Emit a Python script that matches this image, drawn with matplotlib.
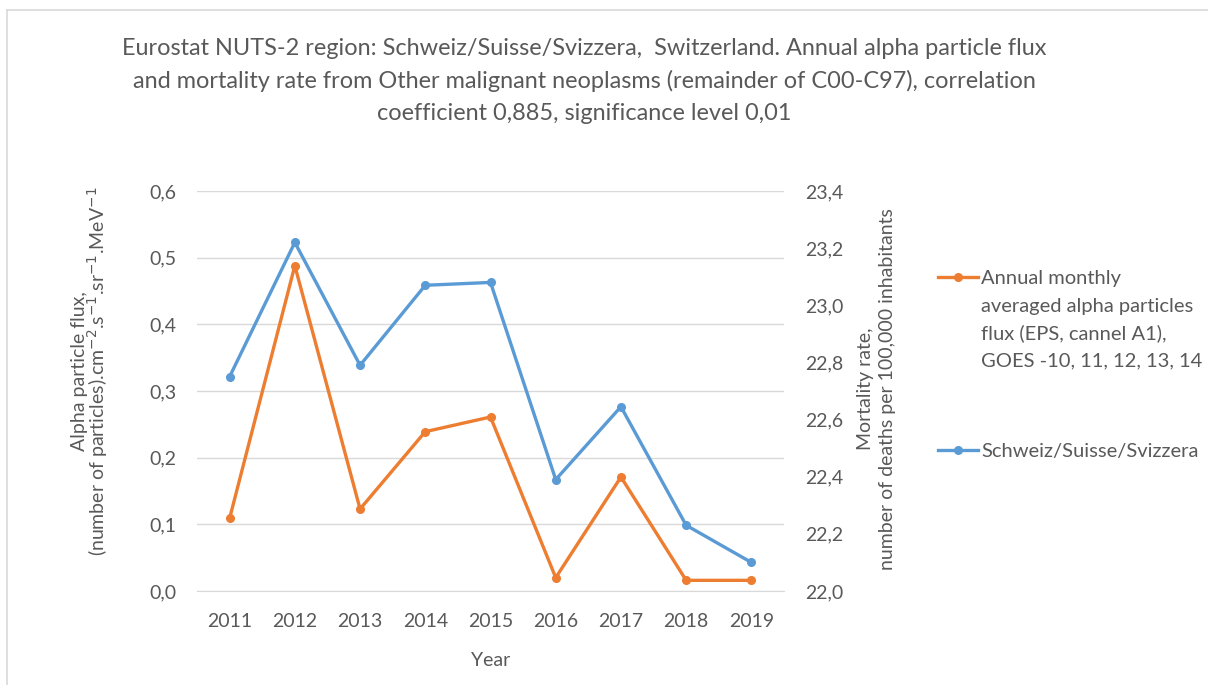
import matplotlib.pyplot as plt
from matplotlib.lines import Line2D
from matplotlib.ticker import FuncFormatter

years = [2011, 2012, 2013, 2014, 2015, 2016, 2017, 2018, 2019]
alpha_flux = [0.109, 0.488, 0.123, 0.239, 0.261, 0.020, 0.171, 0.016, 0.016]
mortality = [22.75, 23.22, 22.79, 23.07, 23.08, 22.39, 22.645, 22.23, 22.10]

plt.rcParams['font.family'] = ['Lato', 'DejaVu Sans']
grey = '#595959'
orange = '#ED7D31'
blue = '#5B9BD5'
W, H = 1208, 685

fig = plt.figure(figsize=(W / 100, H / 100), dpi=100)
# thin chart-area border (only top and left edges show in the original crop)
fig.add_artist(Line2D([7 / W, 1], [1 - 10 / H, 1 - 10 / H], color='#D9D9D9', lw=1.2))
fig.add_artist(Line2D([7 / W, 7 / W], [0, 1 - 10 / H], color='#D9D9D9', lw=1.2))

ax = fig.add_axes([197 / W, 1 - 591 / H, 587 / W, 400 / H])
ax2 = ax.twinx()

x = list(range(len(years)))
l1, = ax.plot(x, alpha_flux, color=orange, lw=2.4, marker='o', ms=5.5)
l2, = ax2.plot(x, mortality, color=blue, lw=2.4, marker='o', ms=5.5)

ax.set_xlim(-0.5, 8.5)
ax.set_ylim(0, 0.6)
ax.set_yticks([0, 0.1, 0.2, 0.3, 0.4, 0.5, 0.6])
ax2.set_ylim(22.0, 23.4)
ax2.set_yticks([22.0, 22.2, 22.4, 22.6, 22.8, 23.0, 23.2, 23.4])
comma = FuncFormatter(lambda v, p: f'{v:.1f}'.replace('.', ','))
ax.yaxis.set_major_formatter(comma)
ax2.yaxis.set_major_formatter(comma)
ax.set_xticks(x)
ax.set_xticklabels([str(y) for y in years])

ax.grid(axis='y', color='#D9D9D9', lw=1)
ax.set_axisbelow(True)
for a in (ax, ax2):
    for s in a.spines.values():
        s.set_visible(False)
    a.tick_params(length=0, labelsize=14, colors=grey)
ax.spines['bottom'].set_visible(True)
ax.spines['bottom'].set_color('#D9D9D9')
ax.tick_params(axis='x', pad=16)
ax.tick_params(axis='y', pad=15)
ax2.tick_params(axis='y', pad=15)

ax.set_xlabel('Year', fontsize=14, color=grey, labelpad=16)
ax.set_ylabel('Alpha particle flux,\n(number of particles).cm$^{-2}$.s$^{-1}$.sr$^{-1}$.MeV$^{-1}$',
              fontsize=14, color=grey, linespacing=0.85)
ax.yaxis.set_label_coords(-0.148, 0.55)
ax2.set_ylabel('Mortality rate,\nnumber of deaths per 100,000 inhabitants',
               fontsize=14, color=grey, linespacing=1.4)
ax2.yaxis.set_label_coords(1.124, 0.505)

fig.text(0.484, 1 - 81 / H,
         'Eurostat NUTS-2 region: Schweiz/Suisse/Svizzera,  Switzerland. Annual alpha particle flux\n'
         'and mortality rate from Other malignant neoplasms (remainder of C00-C97), correlation\n'
         'coefficient 0,885, significance level 0,01',
         ha='center', va='center', fontsize=16.9, color=grey, linespacing=1.64)

# legend: handle sits on the first line of the long label, like Excel does
leg = fig.legend([l1, l2], ['Annual monthly', 'Schweiz/Suisse/Svizzera'], loc='upper left',
                 bbox_to_anchor=(938 / W, 1 - 270 / H), frameon=False, fontsize=14.5,
                 labelcolor=grey, handlelength=2.0, handletextpad=0.15,
                 borderpad=0, borderaxespad=0, labelspacing=7.75)
fig.canvas.draw()
bb = leg.get_texts()[0].get_window_extent()
yc = (bb.y0 + bb.y1) / 2
more = ['averaged alpha particles', 'flux (EPS, cannel A1),', 'GOES -10, 11, 12, 13, 14']
for k, line in enumerate(more, start=1):
    fig.text(bb.x0 / W, (yc - 27.5 * k) / H, line,
             ha='left', va='center', fontsize=14.5, color=grey)

plt.savefig('out.png', dpi=100)
